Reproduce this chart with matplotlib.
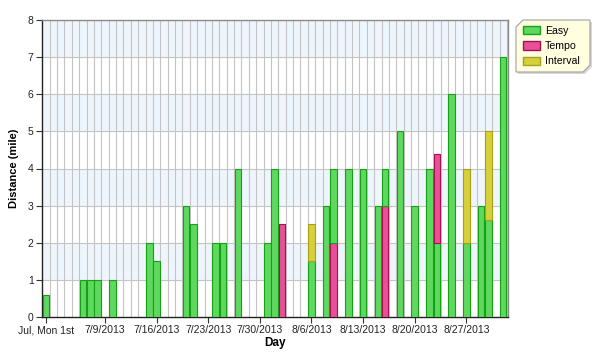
import pandas as pd
import matplotlib.pyplot as plt
from matplotlib.patches import Patch, Polygon

plt.rcParams['font.family'] = ['Liberation Sans', 'DejaVu Sans']

# Runs in the order they are stacked within each day
run_dates = ['2013-07-01', '2013-07-06', '2013-07-07', '2013-07-08', '2013-07-10',
             '2013-07-15', '2013-07-16', '2013-07-20', '2013-07-21', '2013-07-24',
             '2013-07-25', '2013-07-27', '2013-07-31', '2013-08-01', '2013-08-02',
             '2013-08-06', '2013-08-06', '2013-08-08', '2013-08-09', '2013-08-09',
             '2013-08-11', '2013-08-13', '2013-08-15', '2013-08-16', '2013-08-16',
             '2013-08-18', '2013-08-20', '2013-08-22', '2013-08-23', '2013-08-23',
             '2013-08-25', '2013-08-27', '2013-08-27', '2013-08-29', '2013-08-30',
             '2013-08-30', '2013-09-01']
run_miles = [0.6, 1, 1, 1, 1,
             2, 1.5, 3, 2.5, 2,
             2, 4, 2, 4, 2.5,
             1.5, 1.0, 3, 2, 2,
             4, 4, 3, 3, 1,
             5, 3, 4, 2, 2.4,
             6, 2, 2, 3, 2.6,
             2.4, 7]
run_types = ['Easy', 'Easy', 'Easy', 'Easy', 'Easy',
             'Easy', 'Easy', 'Easy', 'Easy', 'Easy',
             'Easy', 'Easy', 'Easy', 'Easy', 'Tempo',
             'Easy', 'Interval', 'Easy', 'Tempo', 'Easy',
             'Easy', 'Easy', 'Easy', 'Tempo', 'Easy',
             'Easy', 'Easy', 'Easy', 'Easy', 'Tempo',
             'Easy', 'Easy', 'Interval', 'Easy', 'Easy',
             'Interval', 'Easy']

start_date = '2013-07-01'
end_date = '2013-09-01'
tick_dates = ['2013-07-01', '2013-07-09', '2013-07-16', '2013-07-23', '2013-07-30',
              '2013-08-06', '2013-08-13', '2013-08-20', '2013-08-27']
tick_labels = ['Jul, Mon 1st', '7/9/2013', '7/16/2013', '7/23/2013', '7/30/2013',
               '8/6/2013', '8/13/2013', '8/20/2013', '8/27/2013']

fill_colors = {'Easy': '#5ed85e', 'Tempo': '#e8509a', 'Interval': '#d6d03a'}
edge_colors = {'Easy': '#16a016', 'Tempo': '#a8104f', 'Interval': '#a8a018'}

t0 = pd.Timestamp(start_date)
n_days = (pd.Timestamp(end_date) - t0).days + 1


def day_index(d):
    return (pd.Timestamp(d) - t0).days


fig = plt.figure(figsize=(6.02, 3.53), dpi=100)
ax = fig.add_axes([42 / 602, 1 - 317 / 353, (508 - 42) / 602, (317 - 20) / 353])

# alternating background bands
for y in range(1, 8, 2):
    ax.axhspan(y, y + 1, color='#eef5fc', zorder=0, lw=0)

for y in range(1, 8):
    ax.axhline(y, color='#c4c4c4', lw=0.8, zorder=1)
for k in range(n_days):
    ax.axvline(k + 0.5, color='#c4c4c4', lw=0.8, zorder=1)

bottoms = {}
for d, m, t in zip(run_dates, run_miles, run_types):
    x = day_index(d)
    b = bottoms.get(x, 0)
    ax.bar(x, m, bottom=b, width=0.88, color=fill_colors[t],
           edgecolor=edge_colors[t], linewidth=0.8, zorder=3)
    bottoms[x] = b + m

ax.set_xlim(-0.55, n_days - 0.35)
ax.set_ylim(0, 8)
ax.set_yticks(range(0, 9))
ax.set_xticks([day_index(d) for d in tick_dates])
ax.set_xticklabels(tick_labels)
ax.tick_params(axis='both', labelsize=7.5, length=4, width=0.8, color='#333333',
               labelcolor='#222222', pad=2)

for s in ['left', 'bottom']:
    ax.spines[s].set_color('#222222')
    ax.spines[s].set_linewidth(1.0)
for s in ['top', 'right']:
    ax.spines[s].set_color('#8a8a8a')
    ax.spines[s].set_linewidth(1.0)

ax.set_xlabel('Day', fontsize=8.5, fontweight='bold', labelpad=1)
ax.set_ylabel('Distance (mile)', fontsize=8, fontweight='bold', labelpad=6)

# legend box with cut corners
W, H = 602, 353
lx0, lx1, ly0, ly1, c = 516, 590, 20, 72, 7
pts = [(lx0 + c, ly0), (lx1, ly0), (lx1, ly1 - c), (lx1 - c, ly1), (lx0, ly1), (lx0, ly0 + c)]
shadow = Polygon([(x / W + 2 / W, 1 - y / H - 2 / H) for x, y in pts], closed=True,
                 transform=fig.transFigure, facecolor='#d8d8d8', edgecolor='none')
box = Polygon([(x / W, 1 - y / H) for x, y in pts], closed=True,
              transform=fig.transFigure, facecolor='#ffffe0', edgecolor='#a0a0a0', lw=0.8)
fig.patches.extend([shadow, box])

handles = [Patch(facecolor=fill_colors[t], edgecolor=edge_colors[t], label=t)
           for t in ['Easy', 'Tempo', 'Interval']]
fig.legend(handles=handles, loc='upper left', bbox_to_anchor=(523 / W, 1 - 25.5 / H),
           frameon=False, fontsize=7.6, handlelength=1.65, handleheight=0.85,
           handletextpad=0.45, labelspacing=0.52, borderpad=0, borderaxespad=0)

fig.savefig('out.png', dpi=100)
